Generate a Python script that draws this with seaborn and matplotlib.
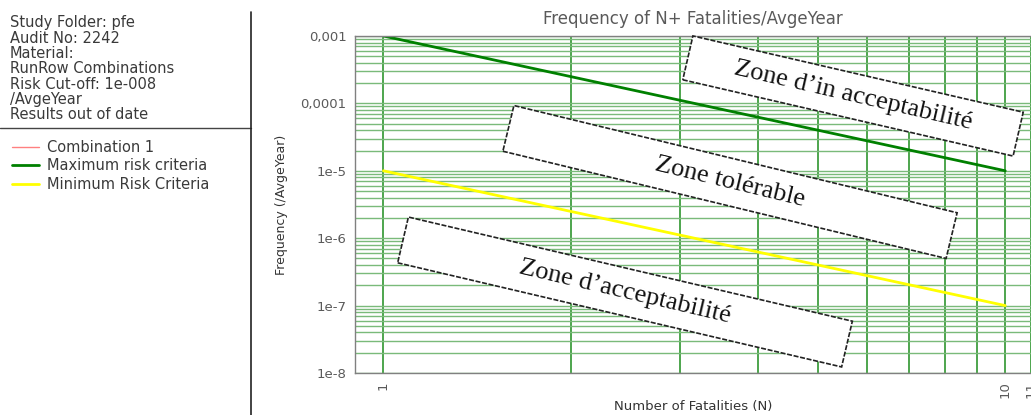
import matplotlib
matplotlib.use("Agg")
import matplotlib.pyplot as plt
import numpy as np
import seaborn as sns
from matplotlib.lines import Line2D
from matplotlib.patches import Rectangle
from matplotlib.transforms import Affine2D
from matplotlib.ticker import NullFormatter

# Data
n_fatalities = [1, 10]
max_risk = [1e-3, 1e-5]      # Maximum risk criteria
min_risk = [1e-5, 1e-7]      # Minimum Risk Criteria
combination_1 = []           # Combination 1 (no points visible)

x_ticks = [1, 10, 11]
x_tick_labels = ["1", "10", "11"]
y_ticks = [1e-8, 1e-7, 1e-6, 1e-5, 1e-4, 1e-3]
y_tick_labels = ["1e-8", "1e-7", "1e-6", "1e-5", "0,0001", "0,001"]

info_lines = ["Study Folder: pfe", "Audit No: 2242", "Material:", "RunRow Combinations",
              "Risk Cut-off: 1e-008", "/AvgeYear", "Results out of date"]

zones = ["Zone d\u2019in acceptabilit\u00e9", "Zone tol\u00e9rable", "Zone d\u2019acceptabilit\u00e9"]

sns.set_style("white")
plt.rcParams["font.family"] = ["DejaVu Sans"]

W, H = 1031, 415
fig = plt.figure(figsize=(W / 100, H / 100), dpi=100)
ax = fig.add_axes([355 / W, 42 / H, 676 / W, 337 / H])

grey = "#5a5a5a"

ax.plot(combination_1, combination_1, color="#ff8080", lw=1, label="Combination 1")
sns.lineplot(x=n_fatalities, y=max_risk, ax=ax, color="#008000", lw=2, label="Maximum risk criteria")
sns.lineplot(x=n_fatalities, y=min_risk, ax=ax, color="#ffff00", lw=2, label="Minimum Risk Criteria")

ax.set_xscale("log")
ax.set_yscale("log")
ax.set_xlim(0.9, 11)
ax.set_ylim(1e-8, 1e-3)

ax.set_xticks(x_ticks, labels=x_tick_labels, rotation=90)
ax.set_xticks(np.arange(2, 10), minor=True)
ax.xaxis.set_minor_formatter(NullFormatter())
ax.set_yticks(y_ticks, labels=y_tick_labels)
ax.yaxis.set_minor_formatter(NullFormatter())

ax.grid(True, which="both", axis="y", color="#7aba7a", lw=1)
ax.grid(True, which="both", axis="x", color="#2f962f", lw=1.2)
ax.set_axisbelow(True)

ax.tick_params(axis="both", which="both", direction="out", length=4, width=1,
               colors=grey, labelsize=9.5, pad=2)
ax.tick_params(axis="x", which="both", color="#3c9c3c")

for side in ["left", "bottom", "top"]:
    ax.spines[side].set_color("#808080")
    ax.spines[side].set_linewidth(1)
ax.spines["right"].set_visible(False)

ax.set_title("Frequency of N+ Fatalities/AvgeYear", color=grey, fontsize=12, pad=9)
ax.set_xlabel("Number of Fatalities (N)", color="#333333", fontsize=9.5)
ax.xaxis.set_label_coords(0.5, -0.1)
ax.xaxis.label.set_va("center")
ax.set_ylabel("Frequency (/AvgeYear)", color="#333333", fontsize=9, labelpad=9)

# Left information panel
for i, line in enumerate(info_lines):
    fig.text(10 / W, 1 - (23 + i * 15.3) / H, line, fontsize=10.5, color="#3a3a3a", va="center")
fig.add_artist(Line2D([0, 251 / W], [1 - 128 / H] * 2, transform=fig.transFigure, color="#444444", lw=1))
fig.add_artist(Line2D([251 / W] * 2, [0, 1 - 12 / H], transform=fig.transFigure, color="#222222", lw=1.2))

handles, labels = ax.get_legend_handles_labels()
if ax.get_legend() is not None:
    ax.get_legend().remove()
fig.legend(handles, labels, loc="upper left", bbox_to_anchor=(0, 1 - 128 / H), frameon=False,
           fontsize=10.5, labelcolor="#3a3a3a", handlelength=1.9, handletextpad=0.5,
           labelspacing=0.25, borderpad=0.3)

# Rotated zone boxes (pixel positions from the reference)
boxes = [(853, 96, 339, 45, -13.0), (730, 182, 456, 47, -13.6), (625, 292, 456, 47, -13.2)]
for (cx, cy, bw, bh, ang), label in zip(boxes, zones):
    cxi, cyi = cx / 100, (H - cy) / 100
    tr = Affine2D().rotate_deg_around(cxi, cyi, ang) + fig.dpi_scale_trans
    rect = Rectangle((cxi - bw / 200, cyi - bh / 200), bw / 100, bh / 100, transform=tr,
                     facecolor="white", edgecolor="#222222", lw=1.2, ls=(0, (3, 1)), zorder=5)
    fig.add_artist(rect)
    fig.text(cx / W, 1 - cy / H, label, rotation=ang, rotation_mode="anchor", ha="center", va="center",
             family="Liberation Serif", fontsize=19, color="#111111", zorder=6)

fig.savefig("out.png", dpi=100)
